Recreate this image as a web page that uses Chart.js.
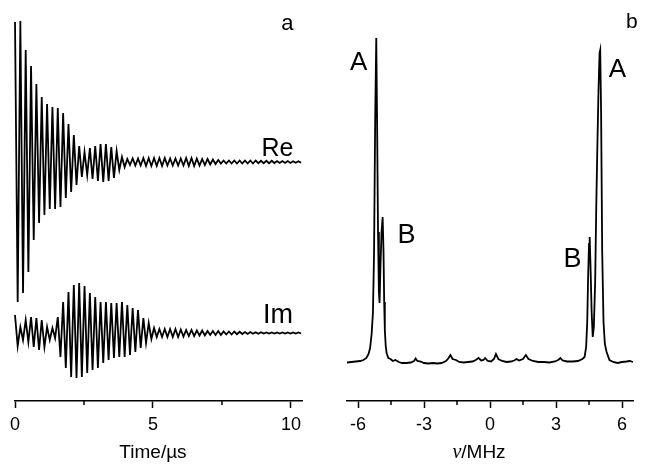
<!DOCTYPE html>
<html><head><meta charset="utf-8">
<script src="https://cdn.jsdelivr.net/npm/chart.js@4.4.1/dist/chart.umd.min.js"></script>
<style>
html,body{margin:0;padding:0;background:#fff;}
#wrap{position:relative;width:649px;height:473px;overflow:hidden;background:#fff;}
#ca{position:absolute;left:0;top:0;}
#cb{position:absolute;left:320px;top:0;}
</style></head><body>
<div id="wrap"><canvas id="ca" width="320" height="473"></canvas><canvas id="cb" width="329" height="473"></canvas></div>
<script>
// ---- data ----
// time-domain traces: successive extrema (peak / trough) of the oscillation,
// sampled every half period (µs)
const HALF_PERIOD_US = 0.0969;
const reSignal = [
  140,-140,141,-131,112,-110,96,-78,78,-61,
  65,-53,58,-47,55,-47,54,-45,49,-36,
  38,-30,27,-23,16,-15,10,-13,14,-17,
  16,-19,18,-20,18,-19,15,-16,11,-8,
  5,-5,3,-3,3.5,-3.5,3.5,-3.5,4,-4,
  4,-4,4,-4,4,-4,4,-3.5,3.5,-3.5,
  3.5,-3.5,3.5,-3.5,4,-4,4,-4,3.5,-3.5,
  3,-3,3,-2.5,2.5,-2,2,-1.5,1.5,-1.5,
  1.5,-1.5,1.5,-1.5,1.5,-1.5,1.5,-1.5,1.5,-1.5,
  1.5,-1.2,1.2,-1.2,1.2,-1.2,1.2,-1,1,-1,
  1,-1,1,-1,0.8,-0.8,0.8,-0.8
];
const imSignal = [
  18,-13,6,-7,13,-9,16,-14,15,-17,
  13,-14,6,-7,5,-5,16,-24,31,-35,
  41,-44,48,-45,50,-44,47,-40,40,-37,
  36,-35,31,-30,31,-27,30,-25,30,-24,
  31,-24,28,-22,25,-19,23,-15,15,-10,
  10,-6,5,-4,4,-4,4,-4,4,-4,
  4,-4,3.5,-3.5,3,-3,3,-3,2.5,-2.5,
  2.5,-2.5,2,-2,2,-2,2,-2,1.5,-1.5,
  1.5,-1.5,1.5,-1.2,1.2,-1,1,-1,1,-0.8,
  0.8,-0.8,0.8,-0.6,0.6,-0.6,0.6,-0.5,0.5,-0.5,
  0.5,-0.5,0.5,-0.5,0.5,-0.5,0.5,-0.5
];
// spectrum (MHz, intensity)
const specFreq = [
  -6.5,-6.3,-6.1,-5.9,-5.75,-5.62,-5.52,-5.45,-5.38,-5.32,
  -5.27,-5.22,-5.17,-5.13,-5.09,-5.05,-5.02,-4.98,-4.93,-4.88,
  -4.84,-4.81,-4.78,-4.74,-4.70,-4.62,-4.52,-4.42,-4.3,-4.15,
  -4.0,-3.8,-3.6,-3.45,-3.38,-3.3,-3.15,-3.0,-2.8,-2.6,
  -2.4,-2.2,-2.0,-1.88,-1.8,-1.7,-1.55,-1.4,-1.2,-1.0,
  -0.8,-0.65,-0.52,-0.4,-0.3,-0.22,-0.1,0.05,0.18,0.27,
  0.38,0.55,0.75,0.95,1.1,1.2,1.32,1.5,1.63,1.75,
  1.95,2.2,2.45,2.7,2.95,3.1,3.2,3.3,3.5,3.75,
  4.0,4.2,4.3,4.37,4.42,4.46,4.5,4.53,4.57,4.62,
  4.67,4.72,4.78,4.83,4.88,4.93,4.98,5.01,5.05,5.10,
  5.16,5.22,5.3,5.43,5.6,5.8,6.0,6.2,6.35,6.5
];
const specIntensity = [
  -0.5,0,0.5,1,2,4,8,14,28,50,
  110,240,324,235,130,70,59,95,130,145,
  110,60,32,16,9,4,3,1,2,0,
  -1,-1,-0.5,1,3.5,1,0.5,-1,-1.5,-1,
  -1.5,-1,1,4,7,3,2,0,-0.5,0,
  0.5,2,4,1.5,2,4,1,0.5,3,8,
  3,1,0,0.5,1.5,3,1.5,3,7,3,
  1,0,0,-0.5,0.5,2,4,1.5,0.5,0.5,
  1,3,5,15,40,85,118,125,95,50,
  25,35,80,155,215,270,309,312,250,110,
  40,18,10,2,0,-1,0,0.5,1,0
];
const timeTicks = [0, 5, 10];
const timeMinorTicks = [2.5, 7.5];
const freqTicks = [-6, -3, 0, 3, 6];
const freqMinorTicks = [-4.5, -1.5, 1.5, 4.5];

// ---- drawing ----
const SANS = '"Liberation Sans", Arial, Helvetica, sans-serif';
const SERIF = '"Liberation Serif", "Times New Roman", serif';

const extrasPlugin = {
  id: 'extras',
  afterDraw(chart, args, opts) {
    const ctx = chart.ctx;
    const xs = chart.scales.x;
    ctx.save();
    ctx.fillStyle = '#000';
    ctx.strokeStyle = '#000';
    // minor ticks
    ctx.lineWidth = 1.5;
    for (const v of opts.minor) {
      const px = xs.getPixelForValue(v);
      ctx.beginPath(); ctx.moveTo(px, xs.top); ctx.lineTo(px, xs.top + 4); ctx.stroke();
    }
    // in-plot labels
    ctx.textAlign = 'center';
    ctx.textBaseline = 'alphabetic';
    for (const l of opts.labels) {
      ctx.font = l.size + 'px ' + SANS;
      ctx.fillText(l.text, xs.getPixelForValue(l.x), chart.scales[l.axis].getPixelForValue(l.y));
    }
    // axis title (mixed fonts)
    const t = opts.title;
    let w = 0;
    for (const p of t.parts) { ctx.font = p.font; w += ctx.measureText(p.text).width; }
    let x = xs.getPixelForValue(t.x) - w / 2;
    const y = xs.top + t.dy;
    ctx.textAlign = 'left';
    for (const p of t.parts) { ctx.font = p.font; ctx.fillText(p.text, x, y); x += ctx.measureText(p.text).width; }
    ctx.restore();
  }
};

function xAxis(min, max, ticks) {
  return {
    type: 'linear', position: 'bottom', min, max,
    afterBuildTicks: s => { s.ticks = ticks.map(v => ({ value: v })); },
    ticks: { font: { family: SANS, size: 18 }, color: '#000', padding: 6, maxRotation: 0, autoSkip: false,
             callback: v => String(v) },
    grid: { drawOnChartArea: false, drawTicks: true, tickLength: 7, tickWidth: 1.5, tickColor: '#000' },
    border: { display: true, color: '#000', width: 1.6 }
  };
}
const lineStyle = { borderColor: '#000', borderWidth: 1.8, pointRadius: 0, tension: 0, fill: false, clip: false };

new Chart(document.getElementById('ca'), {
  type: 'line',
  data: { datasets: [
    Object.assign({ label: 'Re', yAxisID: 'yRe', data: reSignal.map((v, i) => ({ x: i * HALF_PERIOD_US, y: v })) }, lineStyle),
    Object.assign({ label: 'Im', yAxisID: 'yIm', data: imSignal.map((v, i) => ({ x: i * HALF_PERIOD_US, y: v })) }, lineStyle)
  ]},
  options: {
    responsive: false, animation: false, devicePixelRatio: 1,
    layout: { padding: { left: 15, right: 18, top: 5, bottom: 31.4 } },
    plugins: { legend: { display: false }, tooltip: { enabled: false },
      extras: {
        minor: timeMinorTicks,
        labels: [
          { text: 'a', x: 9.87, y: 132, axis: 'yRe', size: 22 },
          { text: 'Re', x: 9.51, y: 6, axis: 'yRe', size: 25 },
          { text: 'Im', x: 9.53, y: 10, axis: 'yIm', size: 27 }
        ],
        title: { x: 5.0, dy: 57, parts: [{ text: 'Time/\u00b5s', font: '19px ' + SANS }] }
      } },
    scales: {
      x: xAxis(0, 10.4, timeTicks),
      yRe: { type: 'linear', display: false, min: -239, max: 157 },
      yIm: { type: 'linear', display: false, min: -68, max: 328 }
    }
  },
  plugins: [extrasPlugin]
});

new Chart(document.getElementById('cb'), {
  type: 'line',
  data: { datasets: [
    Object.assign({ label: 'spectrum', yAxisID: 'y', data: specFreq.map((f, i) => ({ x: f, y: specIntensity[i] })) }, lineStyle)
  ]},
  options: {
    responsive: false, animation: false, devicePixelRatio: 1,
    layout: { padding: { left: 27, right: 16, top: 5, bottom: 31.4 } },
    plugins: { legend: { display: false }, tooltip: { enabled: false },
      extras: {
        minor: freqMinorTicks,
        labels: [
          { text: 'b', x: 6.45, y: 334, axis: 'y', size: 21 },
          { text: 'A', x: -5.97, y: 292, axis: 'y', size: 26 },
          { text: 'A', x: 5.79, y: 285, axis: 'y', size: 26 },
          { text: 'B', x: -3.8, y: 119, axis: 'y', size: 27 },
          { text: 'B', x: 3.75, y: 95, axis: 'y', size: 27 }
        ],
        title: { x: -0.5, dy: 57, parts: [{ text: '\u03bd', font: 'italic 20px ' + SERIF }, { text: '/MHz', font: '19px ' + SANS }] }
      } },
    scales: {
      x: xAxis(-6.5, 6.5, freqTicks),
      y: { type: 'linear', display: false, min: -39, max: 357 }
    }
  },
  plugins: [extrasPlugin]
});
</script>
</body></html>
